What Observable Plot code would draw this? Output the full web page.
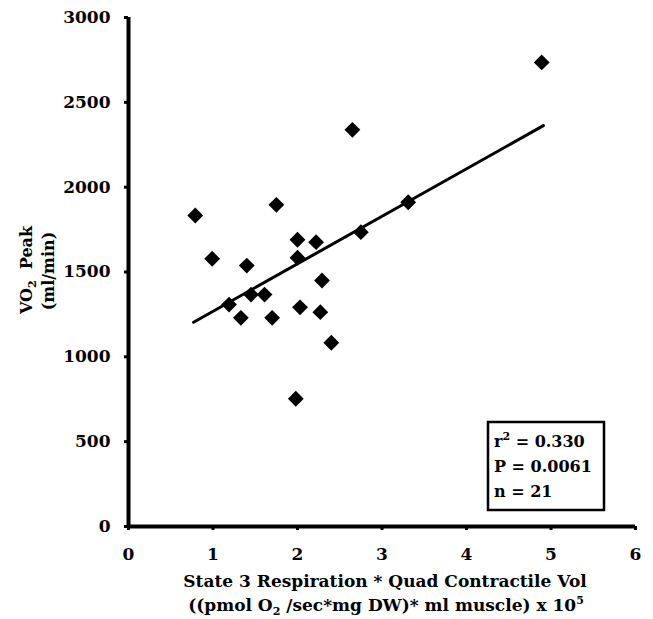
<!DOCTYPE html>
<html>
<head>
<meta charset="utf-8">
<script src="https://cdn.jsdelivr.net/npm/d3@7"></script>
<script src="https://cdn.jsdelivr.net/npm/@observablehq/plot@0.6"></script>
<style>
  html, body { margin: 0; padding: 0; background: white; }
  svg text { font-weight: bold; }
</style>
</head>
<body>
<div id="chart"></div>
<script>
// Data
const xVals = [0.79, 1.75, 0.99, 1.40, 2.00, 2.22, 2.00, 2.75, 3.31, 2.29, 1.19, 1.45, 1.61, 1.33, 1.70, 2.03, 2.27, 2.40, 1.98, 2.65, 4.89];
const yVals = [1833, 1896, 1578, 1538, 1690, 1676, 1584, 1735, 1911, 1450, 1308, 1367, 1367, 1230, 1230, 1292, 1263, 1083, 753, 2338, 2735];
const fitX = [0.77, 4.91];
const fitY = [1204, 2363];
const xTicks = [0, 1, 2, 3, 4, 5, 6];
const yTicks = [0, 500, 1000, 1500, 2000, 2500, 3000];
const statsLines = ["r", "P = 0.0061", "n = 21"];

const points = xVals.map((x, i) => ({x, y: yVals[i]}));
const fit = fitX.map((x, i) => ({x, y: fitY[i]}));

const font = "'DejaVu Serif', serif";

const svg = Plot.plot({
  width: 653,
  height: 619,
  marginLeft: 128,
  marginRight: 18,
  marginTop: 17,
  marginBottom: 93,
  x: {domain: [0, 6]},
  y: {domain: [0, 3000]},
  style: {fontFamily: font, fontSize: "16px", color: "black", background: "white", overflow: "visible"},
  marks: [
    Plot.axisX({ticks: xTicks, tickSize: 4, tickPadding: 17, strokeWidth: 3, label: null, tickFormat: d3.format("d"), fontSize: 17}),
    Plot.axisY({ticks: yTicks, tickSize: 4, tickPadding: 14, strokeWidth: 3, label: null, tickFormat: d3.format("d"), fontSize: 17}),
    Plot.ruleX([0], {y1: 0, y2: 3000, stroke: "black", strokeWidth: 4}),
    Plot.ruleY([0], {x1: 0, x2: 6, stroke: "black", strokeWidth: 4}),
    Plot.line(fit, {x: "x", y: "y", stroke: "black", strokeWidth: 3}),
    Plot.dot(points, {x: "x", y: "y", symbol: "square", r: 6.3, fill: "black", stroke: "none", rotate: 45})
  ]
});

document.getElementById("chart").appendChild(svg);
const s = d3.select(svg);

// Y axis title (rotated, two lines)
const yt = s.append("g").attr("transform", "rotate(-90)")
  .attr("font-family", font).attr("font-weight", "bold").attr("font-size", 16).attr("fill", "black")
  .attr("text-anchor", "middle");
const yl1 = yt.append("text").attr("x", -270).attr("y", 32).attr("xml:space", "preserve");
yl1.append("tspan").text("VO");
yl1.append("tspan").attr("font-size", 11).attr("dy", 4).text("2");
yl1.append("tspan").attr("dy", -4).text("  Peak");
yt.append("text").attr("x", -271).attr("y", 54).text("(ml/min)");

// X axis title (two lines)
const xt = s.append("g").attr("font-family", font).attr("font-weight", "bold").attr("font-size", 17)
  .attr("fill", "black").attr("text-anchor", "middle");
xt.append("text").attr("x", 385).attr("y", 587).text("State 3 Respiration * Quad Contractile Vol");
const xl2 = xt.append("text").attr("x", 386).attr("y", 611);
xl2.append("tspan").text("((pmol O");
xl2.append("tspan").attr("font-size", 11).attr("dy", 4).text("2");
xl2.append("tspan").attr("dy", -4).text(" /sec*mg DW)* ml muscle) x 10");
xl2.append("tspan").attr("font-size", 11).attr("dy", -7).text("5");

// Stats box
const bx = s.append("g");
bx.append("rect").attr("x", 488).attr("y", 422).attr("width", 116).attr("height", 88)
  .attr("fill", "white").attr("stroke", "black").attr("stroke-width", 2.5);
const bt = bx.append("g").attr("font-family", font).attr("font-weight", "bold").attr("font-size", 16)
  .attr("fill", "black").attr("text-anchor", "start");
const r2 = bt.append("text").attr("x", 494).attr("y", 447);
r2.append("tspan").text(statsLines[0]);
r2.append("tspan").attr("font-size", 11).attr("dy", -7).text("2");
r2.append("tspan").attr("dy", 7).text(" = 0.330");
bt.append("text").attr("x", 494).attr("y", 472).text(statsLines[1]);
bt.append("text").attr("x", 494).attr("y", 497).text(statsLines[2]);
</script>
</body>
</html>
